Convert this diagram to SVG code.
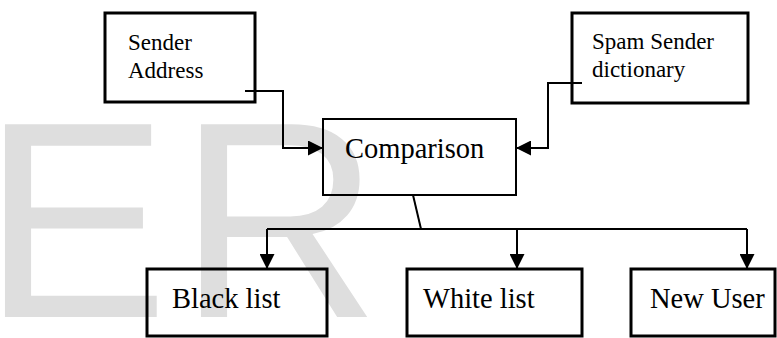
<svg xmlns="http://www.w3.org/2000/svg" width="777" height="338" viewBox="0 0 777 338">
<defs>
<style>
.box{fill:none;stroke:#000;stroke-width:3}
.cmp{fill:none;stroke:#000;stroke-width:2}
.ln{fill:none;stroke:#000;stroke-width:2}
.sm{font-size:23px;fill:#000}
.lg{font-size:28.5px;fill:#000}
.wm{font-size:280px;fill:#dedede}
</style>
<marker id="ah" viewBox="0 0 10 10" refX="10" refY="5" markerWidth="15" markerHeight="15" markerUnits="userSpaceOnUse" orient="auto">
<path d="M0,0 L10,5 L0,10 Z" fill="#000"/>
</marker>
</defs>
<rect width="777" height="338" fill="#fff"/>
<g id="watermark" font-family="Liberation Sans, Arial, sans-serif">
<text class="wm" x="-18" y="317">E</text>
<text class="wm" x="178" y="317">R</text>
</g>
<g font-family="Liberation Serif, Times New Roman, DejaVu Serif, serif">
<g id="sender-address">
<rect class="box" x="105" y="13" width="150" height="89"/>
<text class="sm" x="128" y="50">Sender</text>
<text class="sm" x="128" y="78">Address</text>
</g>
<g id="spam-sender-dictionary">
<rect class="box" x="572" y="13" width="176" height="90"/>
<text class="sm" x="592" y="49">Spam Sender</text>
<text class="sm" x="592" y="77">dictionary</text>
</g>
<g id="comparison">
<rect class="cmp" x="323" y="119" width="193" height="76"/>
<text class="lg" x="345" y="158">Comparison</text>
</g>
<g id="black-list">
<rect class="box" x="147" y="269" width="180" height="67"/>
<text class="lg" x="172" y="308">Black list</text>
</g>
<g id="white-list">
<rect class="box" x="407" y="269" width="175" height="67"/>
<text class="lg" x="423" y="308">White list</text>
</g>
<g id="new-user">
<rect class="box" x="631" y="269" width="144" height="67"/>
<text class="lg" x="650" y="308">New User</text>
</g>
</g>
<g id="connectors">
<path class="ln" d="M245,91 H283 V148 H323" marker-end="url(#ah)"/>
<path class="ln" d="M582,83 H548 V148 H516" marker-end="url(#ah)"/>
<path class="ln" d="M413,195 L421,229"/>
<path class="ln" d="M267,229 H747"/>
<path class="ln" d="M267,229 V269" marker-end="url(#ah)"/>
<path class="ln" d="M517,229 V269" marker-end="url(#ah)"/>
<path class="ln" d="M747,229 V269" marker-end="url(#ah)"/>
</g>
</svg>
